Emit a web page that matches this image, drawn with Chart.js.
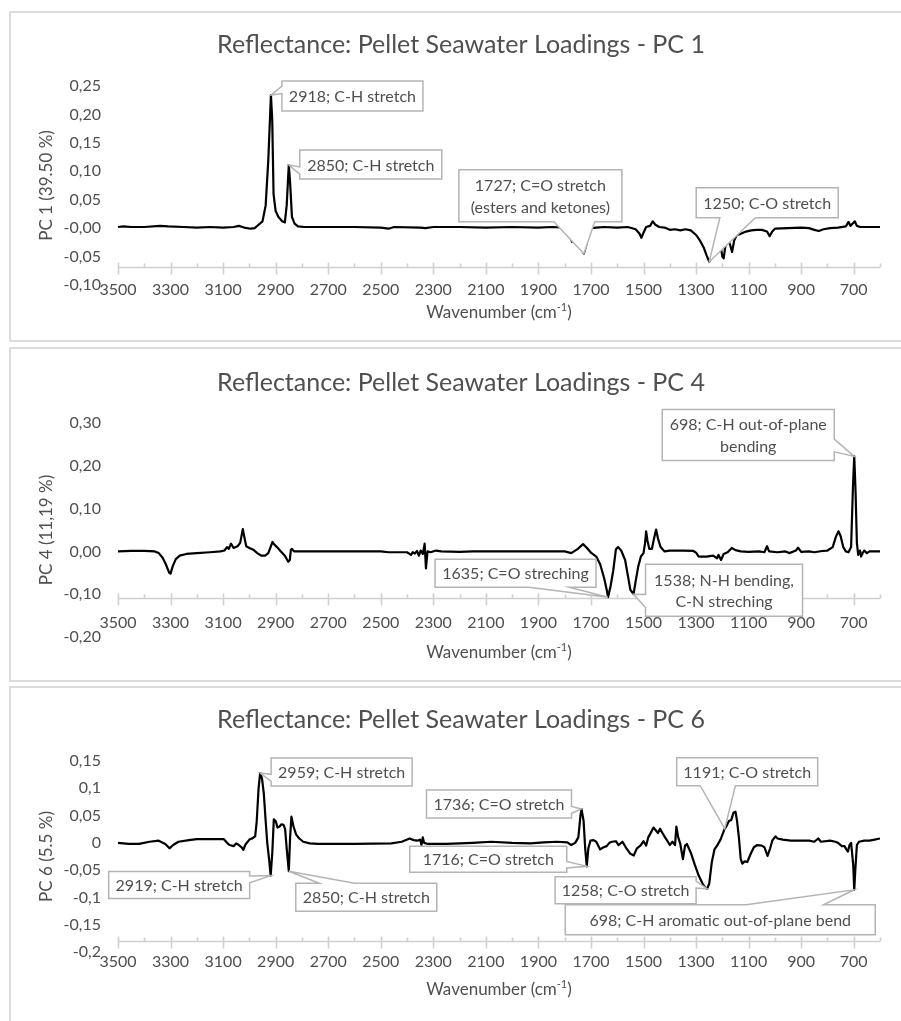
<!DOCTYPE html>
<html>
<head>
<meta charset="utf-8">
<title>Reflectance: Pellet Seawater Loadings</title>
<script src="https://cdn.jsdelivr.net/npm/chart.js@4.4.1/dist/chart.umd.min.js"></script>
<style>
  html, body { margin: 0; padding: 0; background: #fff; overflow: hidden; }
  body { position: relative; width: 901px; height: 1021px; }
  .frame { position: absolute; left: 9px; width: 904px; border: 2px solid #dcdcdc; box-sizing: border-box; }
  canvas { position: absolute; left: 0; }
</style>
</head>
<body>
<div class="frame" style="top:11px;height:331px"></div>
<div class="frame" style="top:347px;height:335px"></div>
<div class="frame" style="top:686px;height:345px"></div>
<canvas id="pc1" width="901" height="330" style="top:11px"></canvas>
<canvas id="pc4" width="901" height="333" style="top:348px"></canvas>
<canvas id="pc6" width="901" height="334" style="top:687px"></canvas>
<script>
// x axis ticks (wavenumber, cm-1)
const xMajorTicks = [3500, 3300, 3100, 2900, 2700, 2500, 2300, 2100, 1900, 1700, 1500, 1300, 1100, 900, 700];
const xMinorTicks = [3400, 3200, 3000, 2800, 2600, 2400, 2200, 2000, 1800, 1600, 1400, 1200, 1000, 800, 600];

// PC 1 loadings
const pc1Wave = [3500, 3480, 3450, 3400, 3340, 3310, 3250, 3200, 3150, 3100, 3060, 3040, 3020, 2995, 2980, 2965, 2950, 2938, 2928, 2918, 2913, 2908, 2900, 2890, 2875, 2865, 2858, 2850, 2845, 2838, 2828, 2815, 2790, 2700, 2600, 2500, 2470, 2450, 2350, 2330, 2300, 2200, 2100, 2000, 1900, 1850, 1800, 1785, 1772, 1760, 1752, 1740, 1727, 1718, 1708, 1700, 1680, 1650, 1600, 1560, 1530, 1515, 1508, 1500, 1490, 1475, 1465, 1455, 1440, 1420, 1400, 1380, 1360, 1340, 1320, 1300, 1285, 1270, 1260, 1250, 1240, 1225, 1215, 1207, 1200, 1195, 1188, 1180, 1170, 1163, 1155, 1145, 1130, 1110, 1090, 1070, 1050, 1030, 1020, 1010, 1000, 950, 900, 870, 850, 833, 815, 790, 760, 730, 720, 712, 700, 696, 688, 675, 650, 600];
const pc1Load = [0.002, 0.003, 0.002, 0.002, 0.004, 0.003, 0.002, 0.001, 0.002, 0.001, 0.002, 0.004, 0.001, -0.001, 0.000, 0.006, 0.012, 0.040, 0.120, 0.234, 0.190, 0.060, 0.030, 0.020, 0.012, 0.010, 0.040, 0.111, 0.080, 0.020, 0.008, 0.003, 0.002, 0.002, 0.002, 0.001, -0.001, 0.002, 0.001, 0.000, 0.002, 0.002, 0.001, 0.002, 0.001, 0.002, 0.001, -0.008, -0.024, -0.008, -0.010, -0.030, -0.045, -0.030, -0.004, 0.000, 0.001, 0.002, 0.001, 0.002, -0.002, -0.010, -0.017, -0.008, 0.002, 0.004, 0.012, 0.006, 0.002, 0.001, -0.003, -0.002, -0.004, -0.002, -0.004, -0.012, -0.022, -0.035, -0.048, -0.059, -0.050, -0.030, -0.020, -0.030, -0.050, -0.053, -0.030, -0.018, -0.030, -0.042, -0.022, -0.012, -0.010, -0.006, -0.004, -0.003, -0.003, -0.006, -0.014, -0.006, -0.001, 0.000, 0.001, 0.000, -0.003, -0.005, -0.002, 0.000, 0.001, 0.003, 0.011, 0.004, 0.010, 0.012, 0.004, 0.002, 0.002, 0.002];
const pc1NoteWave = [2918, 2850, 1727, 1250];
const pc1NoteText = [['2918; C-H stretch'], ['2850; C-H stretch'], ['1727; C=O stretch', '(esters and ketones)'], ['1250; C-O stretch']];

// PC 4 loadings
const pc4Wave = [3500, 3450, 3400, 3360, 3345, 3330, 3318, 3305, 3300, 3292, 3280, 3265, 3240, 3200, 3150, 3110, 3095, 3085, 3078, 3070, 3060, 3045, 3035, 3025, 3018, 3012, 3000, 2985, 2970, 2955, 2940, 2928, 2912, 2905, 2895, 2880, 2865, 2852, 2846, 2842, 2838, 2830, 2700, 2500, 2470, 2400, 2385, 2378, 2370, 2362, 2355, 2348, 2340, 2333, 2328, 2322, 2310, 2290, 2270, 2200, 2150, 2000, 1900, 1800, 1775, 1750, 1730, 1715, 1700, 1680, 1665, 1650, 1640, 1635, 1625, 1615, 1605, 1597, 1585, 1570, 1560, 1550, 1538, 1530, 1520, 1510, 1500, 1494, 1490, 1485, 1478, 1468, 1460, 1452, 1445, 1435, 1420, 1400, 1350, 1310, 1300, 1290, 1260, 1235, 1220, 1215, 1205, 1195, 1180, 1164, 1150, 1130, 1100, 1060, 1040, 1030, 1022, 990, 960, 945, 920, 912, 900, 870, 850, 820, 800, 780, 768, 758, 750, 740, 730, 720, 710, 703, 698, 693, 688, 683, 676, 672, 667, 660, 650, 640, 600];
const pc4Load = [0.000, 0.001, 0.001, 0.000, -0.004, -0.015, -0.030, -0.050, -0.052, -0.035, -0.018, -0.010, -0.006, -0.004, -0.002, 0.000, 0.002, 0.010, 0.006, 0.018, 0.008, 0.012, 0.020, 0.052, 0.030, 0.012, 0.008, 0.004, -0.004, -0.010, -0.010, -0.004, 0.022, 0.016, 0.010, 0.000, -0.010, -0.024, -0.020, 0.004, 0.006, 0.000, 0.000, 0.000, -0.002, -0.002, -0.008, -0.002, -0.005, 0.001, -0.010, 0.002, -0.006, 0.018, -0.040, 0.000, -0.002, 0.002, 0.000, -0.001, 0.000, 0.000, 0.000, 0.000, -0.004, 0.006, 0.017, 0.008, -0.003, -0.012, -0.030, -0.062, -0.090, -0.107, -0.080, -0.044, 0.005, 0.010, 0.002, -0.020, -0.055, -0.090, -0.100, -0.070, -0.035, -0.012, -0.004, 0.020, 0.047, 0.025, 0.006, 0.006, 0.030, 0.051, 0.030, 0.010, 0.000, 0.002, 0.002, 0.001, -0.003, -0.012, -0.012, -0.010, -0.016, -0.008, -0.020, -0.006, -0.002, 0.008, 0.003, 0.000, -0.001, 0.000, -0.002, 0.012, 0.000, -0.002, 0.000, -0.004, 0.002, 0.009, -0.001, 0.000, -0.002, 0.001, 0.002, 0.010, 0.034, 0.047, 0.036, 0.010, 0.000, -0.002, 0.010, 0.150, 0.222, 0.140, 0.020, -0.008, 0.002, -0.012, -0.005, 0.002, -0.004, 0.000, 0.000];
const pc4NoteWave = [698, 1635, 1538];
const pc4NoteText = [['698; C-H out-of-plane', 'bending'], ['1635; C=O streching'], ['1538; N-H bending,', 'C-N streching']];

// PC 6 loadings
const pc6Wave = [3500, 3460, 3420, 3380, 3345, 3320, 3304, 3290, 3270, 3230, 3200, 3150, 3098, 3085, 3075, 3060, 3050, 3040, 3030, 3023, 3015, 3000, 2990, 2978, 2972, 2965, 2959, 2952, 2945, 2938, 2932, 2925, 2919, 2913, 2907, 2900, 2893, 2885, 2878, 2870, 2864, 2858, 2850, 2845, 2840, 2832, 2822, 2810, 2795, 2770, 2740, 2600, 2460, 2420, 2390, 2375, 2360, 2350, 2345, 2340, 2335, 2320, 2250, 2150, 2080, 2000, 1930, 1880, 1830, 1790, 1775, 1760, 1748, 1740, 1736, 1728, 1722, 1716, 1710, 1702, 1690, 1680, 1665, 1652, 1640, 1630, 1620, 1605, 1595, 1580, 1565, 1550, 1537, 1525, 1510, 1500, 1490, 1482, 1475, 1462, 1455, 1445, 1437, 1428, 1418, 1410, 1400, 1390, 1380, 1375, 1368, 1360, 1350, 1342, 1335, 1320, 1305, 1290, 1275, 1265, 1258, 1250, 1240, 1230, 1220, 1207, 1191, 1185, 1175, 1166, 1158, 1150, 1144, 1137, 1130, 1124, 1115, 1105, 1092, 1080, 1067, 1050, 1040, 1028, 1018, 1010, 998, 990, 970, 940, 900, 870, 850, 835, 825, 790, 770, 760, 745, 735, 728, 722, 716, 710, 702, 698, 694, 688, 680, 660, 640, 620, 600];
const pc6Load = [0.000, -0.002, -0.002, 0.002, 0.004, -0.002, -0.010, -0.004, 0.002, 0.005, 0.007, 0.007, 0.007, 0.000, -0.004, -0.006, -0.001, -0.004, -0.008, -0.013, -0.003, 0.006, 0.008, 0.012, 0.040, 0.100, 0.128, 0.118, 0.090, 0.040, 0.000, -0.030, -0.060, -0.020, 0.043, 0.040, 0.028, 0.030, 0.034, 0.033, 0.025, -0.010, -0.052, 0.010, 0.048, 0.030, 0.015, 0.008, 0.002, -0.001, -0.002, -0.002, -0.001, 0.002, 0.008, 0.005, 0.004, 0.006, -0.004, 0.010, 0.000, -0.002, -0.002, 0.000, 0.002, 0.000, -0.001, 0.001, 0.002, 0.001, -0.004, 0.000, 0.010, 0.050, 0.062, 0.040, -0.010, -0.043, -0.010, 0.004, 0.005, 0.002, -0.012, -0.008, -0.006, 0.000, 0.002, 0.003, -0.004, 0.002, -0.010, -0.020, -0.023, -0.010, -0.004, 0.003, -0.005, 0.010, 0.016, 0.028, 0.024, 0.018, 0.026, 0.018, 0.010, 0.004, -0.004, 0.002, -0.004, 0.030, 0.010, -0.002, -0.030, -0.005, -0.002, -0.018, -0.040, -0.060, -0.075, -0.082, -0.084, -0.075, -0.035, -0.012, -0.005, 0.006, 0.026, 0.030, 0.040, 0.042, 0.055, 0.057, 0.040, 0.010, -0.030, -0.038, -0.034, -0.035, -0.020, -0.008, -0.004, -0.005, -0.008, -0.024, -0.010, 0.004, 0.012, 0.008, 0.006, 0.004, 0.004, 0.004, 0.002, 0.008, 0.002, 0.004, 0.002, 0.000, -0.006, -0.006, -0.012, -0.016, -0.004, 0.000, -0.040, -0.086, -0.050, -0.004, 0.002, 0.004, 0.004, 0.006, 0.008];
const pc6NoteWave = [2959, 2919, 2850, 1736, 1716, 1258, 1191, 698];
const pc6NoteText = [['2959; C-H stretch'], ['2919; C-H stretch'], ['2850; C-H stretch'], ['1736; C=O stretch'], ['1716; C=O stretch'], ['1258; C-O stretch'], ['1191; C-O stretch'], ['698; C-H aromatic out-of-plane bend']];

const TEXT = '#4f4f4f';
const AXIS = '#d0d0d0';
const BOX = '#b4b4b4';
const FONT = 'Lato, "Open Sans", sans-serif';

function valueAt(ws, vs, w) {
    for (let i = 0; i < ws.length - 1; i++) {
        if (ws[i] >= w && w >= ws[i + 1]) {
            const t = (ws[i] - w) / (ws[i] - ws[i + 1]);
            return vs[i] + t * (vs[i + 1] - vs[i]);
        }
    }
    return 0;
}

// rectangle callout with a wedge pointing at (px, py), Office style
function drawCallout(ctx, l, t, w, h, px, py, lines) {
    const r = l + w, b = t + h;
    const dx = px - (l + w / 2), dy = py - (t + h / 2);
    const dz = Math.abs(dy) - Math.abs(dx * h / w);
    const x1 = l + w * (dx > 0 ? 7 : 2) / 12, x2 = l + w * (dx > 0 ? 10 : 5) / 12;
    const y1 = t + h * (dy > 0 ? 7 : 2) / 12, y2 = t + h * (dy > 0 ? 10 : 5) / 12;
    ctx.beginPath();
    ctx.moveTo(l, t);
    if (dz > 0 && dy < 0) { ctx.lineTo(x1, t); ctx.lineTo(px, py); ctx.lineTo(x2, t); }
    ctx.lineTo(r, t);
    if (dz <= 0 && dx > 0) { ctx.lineTo(r, y1); ctx.lineTo(px, py); ctx.lineTo(r, y2); }
    ctx.lineTo(r, b);
    if (dz > 0 && dy > 0) { ctx.lineTo(x2, b); ctx.lineTo(px, py); ctx.lineTo(x1, b); }
    ctx.lineTo(l, b);
    if (dz <= 0 && dx < 0) { ctx.lineTo(l, y2); ctx.lineTo(px, py); ctx.lineTo(l, y1); }
    ctx.closePath();
    ctx.fillStyle = '#fff';
    ctx.fill();
    ctx.strokeStyle = BOX;
    ctx.lineWidth = 1.5;
    ctx.stroke();

    ctx.fillStyle = TEXT;
    ctx.font = '16px ' + FONT;
    ctx.textAlign = 'center';
    ctx.textBaseline = 'middle';
    const lh = 21.5;
    const cy = t + h / 2 - (lines.length - 1) * lh / 2;
    lines.forEach((s, i) => ctx.fillText(s, l + w / 2, cy + i * lh + 1));
}

function makeDecor(cfg) {
    return {
        id: 'decor',
        beforeDatasetsDraw(chart) {
            const {ctx, scales: {x, y}} = chart;
            const ay = Math.round(y.getPixelForValue(cfg.axisAt)) + 0.5;
            ctx.save();
            ctx.strokeStyle = AXIS;
            ctx.lineWidth = 1.6;
            ctx.beginPath();
            ctx.moveTo(x.left, ay);
            ctx.lineTo(x.right, ay);
            xMajorTicks.forEach(v => {
                const px = Math.round(x.getPixelForValue(v)) + 0.5;
                ctx.moveTo(px, ay - 5);
                ctx.lineTo(px, ay + 7);
            });
            xMinorTicks.forEach(v => {
                const px = Math.round(x.getPixelForValue(v)) + 0.5;
                ctx.moveTo(px, ay - 4);
                ctx.lineTo(px, ay);
            });
            ctx.stroke();
            ctx.restore();
        },
        afterDatasetsDraw(chart) {
            const {ctx, scales: {x, y}} = chart;
            ctx.save();
            cfg.noteWave.forEach((w, i) => {
                const px = x.getPixelForValue(w);
                const py = y.getPixelForValue(valueAt(cfg.wave, cfg.load, w));
                const [bx, by, bw, bh] = cfg.boxes[i];
                drawCallout(ctx, px + bx, py + by, bw, bh, px, py, cfg.noteText[i]);
            });
            ctx.restore();
        },
        afterDraw(chart) {
            const {ctx, chartArea} = chart;
            ctx.save();
            ctx.fillStyle = TEXT;
            ctx.textAlign = 'center';
            ctx.textBaseline = 'middle';

            ctx.font = '25px ' + FONT;
            ctx.fillText(cfg.title, 461, cfg.titleY - cfg.top);

            // y axis title
            ctx.save();
            ctx.translate(47, (chartArea.top + chartArea.bottom) / 2);
            ctx.rotate(-Math.PI / 2);
            ctx.font = '17px ' + FONT;
            ctx.fillText(cfg.yTitle, 0, 0);
            ctx.restore();

            // x axis title with superscript
            const cx = (chartArea.left + chartArea.right) / 2;
            const ty = cfg.xTitleY - cfg.top;
            const big = '17px ' + FONT, small = '11px ' + FONT;
            const a = 'Wavenumber (cm', s = '-1', c = ')';
            ctx.font = big;
            const wa = ctx.measureText(a).width, wc = ctx.measureText(c).width;
            ctx.font = small;
            const ws = ctx.measureText(s).width;
            let xx = cx - (wa + ws + wc) / 2;
            ctx.textAlign = 'left';
            ctx.font = big;
            ctx.fillText(a, xx, ty);
            xx += wa;
            ctx.font = small;
            ctx.fillText(s, xx, ty - 6);
            xx += ws;
            ctx.font = big;
            ctx.fillText(c, xx, ty);
            ctx.restore();
        }
    };
}

function makePanel(id, cfg) {
    const canvas = document.getElementById(id);
    const H = canvas.height;
    const points = cfg.wave.map((w, i) => ({x: w, y: cfg.load[i]}));
    new Chart(canvas, {
        type: 'line',
        data: {
            datasets: [{
                data: points,
                borderColor: '#000',
                borderWidth: 2.2,
                borderJoinStyle: 'round',
                pointRadius: 0,
                tension: 0,
                fill: false
            }]
        },
        options: {
            responsive: false,
            animation: false,
            events: [],
            layout: {
                padding: {left: 0, right: 21, top: cfg.areaTop - cfg.top, bottom: H - (cfg.areaBottom - cfg.top)}
            },
            plugins: {
                legend: {display: false},
                tooltip: {enabled: false},
                title: {display: false}
            },
            scales: {
                x: {
                    type: 'linear',
                    reverse: true,
                    min: 600,
                    max: 3500,
                    position: {y: cfg.axisAt},
                    grid: {display: false, drawTicks: false},
                    border: {display: false},
                    afterBuildTicks: scale => {
                        scale.ticks = xMajorTicks.slice().sort((a, b) => a - b).map(v => ({value: v}));
                    },
                    ticks: {
                        autoSkip: false,
                        maxRotation: 0,
                        padding: cfg.xLabelGap,
                        color: TEXT,
                        font: {family: FONT, size: 16},
                        callback: v => String(v)
                    }
                },
                y: {
                    min: cfg.yMin,
                    max: cfg.yMax,
                    afterFit: scale => { scale.width = 118; },
                    grid: {display: false, drawTicks: false},
                    border: {display: false},
                    ticks: {
                        stepSize: cfg.yStep,
                        padding: 17,
                        color: TEXT,
                        font: {family: FONT, size: 16},
                        callback: cfg.yFormat
                    }
                }
            }
        },
        plugins: [makeDecor(cfg)]
    });
}

const fixed2 = v => (+v).toFixed(2).replace('.', ',');
const short2 = v => String(+(+v).toFixed(2)).replace('.', ',');

function drawAll() {
    makePanel('pc1', {
        top: 11, areaTop: 86, areaBottom: 285,
        yMin: -0.10, yMax: 0.25, yStep: 0.05, yFormat: fixed2, axisAt: -0.068, xLabelGap: 13,
        title: 'Reflectance: Pellet Seawater Loadings - PC 1', titleY: 45,
        yTitle: 'PC 1 (39.50 %)', xTitleY: 313,
        wave: pc1Wave, load: pc1Load, noteWave: pc1NoteWave, noteText: pc1NoteText,
        boxes: [[11, -14, 141, 30], [11, -15, 142, 29], [-125, -84, 163, 52], [-13, -74, 142, 30]]
    });
    makePanel('pc4', {
        top: 348, areaTop: 423, areaBottom: 637,
        yMin: -0.20, yMax: 0.30, yStep: 0.10, yFormat: fixed2, axisAt: -0.11, xLabelGap: 15,
        title: 'Reflectance: Pellet Seawater Loadings - PC 4', titleY: 383,
        yTitle: 'PC 4 (11,19 %)', xTitleY: 653,
        wave: pc4Wave, load: pc4Load, noteWave: pc4NoteWave, noteText: pc4NoteText,
        boxes: [[-192, -47, 172, 51], [-173, -38, 161, 28], [12, -30, 157, 52]]
    });
    makePanel('pc6', {
        top: 687, areaTop: 761, areaBottom: 952,
        yMin: -0.2, yMax: 0.15, yStep: 0.05, yFormat: short2, axisAt: -0.18, xLabelGap: 11,
        title: 'Reflectance: Pellet Seawater Loadings - PC 6', titleY: 720,
        yTitle: 'PC 6 (5.5 %)', xTitleY: 990,
        wave: pc6Wave, load: pc6Load, noteWave: pc6NoteWave, noteText: pc6NoteText,
        boxes: [[11, -15, 141, 28], [-162, -4, 141, 27], [7, 12, 141, 28], [-155, -19, 145, 28],
                [-177, -20, 157, 26], [-152, -12, 141, 27], [-48, -71, 141, 28], [-289, 15, 310, 30]]
    });
}

if (document.fonts && document.fonts.load) {
    Promise.all([document.fonts.load('16px Lato'), document.fonts.load('25px Lato')])
        .then(drawAll, drawAll);
} else {
    drawAll();
}
</script>
</body>
</html>
